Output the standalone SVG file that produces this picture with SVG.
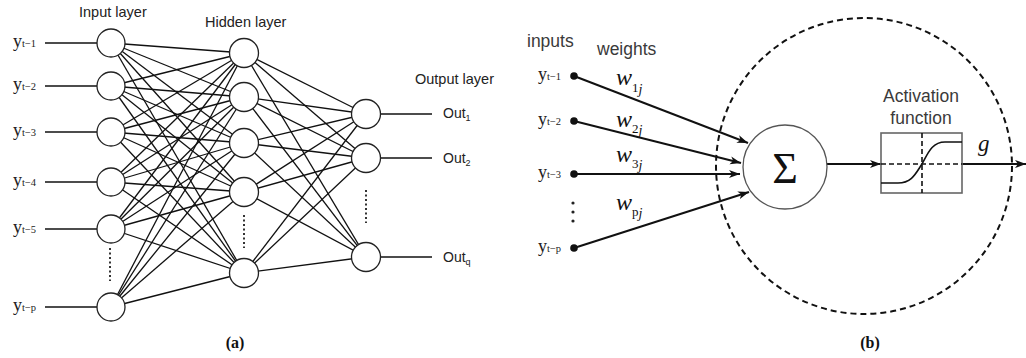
<svg xmlns="http://www.w3.org/2000/svg" width="1026" height="358" viewBox="0 0 1026 358">
<style>
.c{stroke:#111;stroke-width:1.3;fill:none}
.n{fill:#fff;stroke:#222;stroke-width:1.3}
.dot{stroke:#333;stroke-width:2;stroke-dasharray:2 2.5}
.lay{font-family:"Liberation Sans",Arial,sans-serif;font-size:14.5px;fill:#222}
.yl{font-family:"Liberation Serif","Times New Roman",serif;font-size:18px;fill:#222}
.ys{font-size:10.5px}
.out{font-family:"Liberation Sans",Arial,sans-serif;font-size:14px;fill:#222}
.os{font-size:9px}
.cap{font-family:"Liberation Serif","Times New Roman",serif;font-size:16px;font-weight:bold;fill:#111;text-anchor:middle}
.lb{font-family:"Liberation Sans",Arial,sans-serif;font-size:17.5px;fill:#3a3a3a}
.w{font-family:"Liberation Serif","Times New Roman",serif;font-style:italic;font-size:24px;fill:#111}
.ws{font-size:13px;font-style:normal}
.wj{font-size:14px;font-style:italic}
.ar{stroke:#111;stroke-width:2;fill:none}
</style>
<defs>
<marker id="ah" markerUnits="userSpaceOnUse" markerWidth="12" markerHeight="9" refX="11" refY="4.5" orient="auto">
<path d="M0,0.5 L11,4.5 L0,8.5 L3,4.5 Z" fill="#111"/>
</marker>
</defs>

<!-- Panel (a) -->
<g id="a-labels">
<text class="lay" x="79" y="17">Input layer</text>
<text class="lay" x="205" y="27">Hidden layer</text>
<text class="lay" x="415" y="84">Output layer</text>
</g>

<g id="connectors-a">
<line class="c" x1="45" y1="43" x2="97" y2="43"/>
<line class="c" x1="45" y1="86" x2="97" y2="86"/>
<line class="c" x1="45" y1="132" x2="97" y2="132"/>
<line class="c" x1="45" y1="182" x2="97" y2="182"/>
<line class="c" x1="45" y1="229" x2="97" y2="229"/>
<line class="c" x1="45" y1="307" x2="97" y2="307"/>

<line class="c" x1="111" y1="43" x2="244" y2="53"/><line class="c" x1="111" y1="43" x2="244" y2="97"/><line class="c" x1="111" y1="43" x2="244" y2="143"/><line class="c" x1="111" y1="43" x2="244" y2="192"/><line class="c" x1="111" y1="43" x2="244" y2="273"/>
<line class="c" x1="111" y1="86" x2="244" y2="53"/><line class="c" x1="111" y1="86" x2="244" y2="97"/><line class="c" x1="111" y1="86" x2="244" y2="143"/><line class="c" x1="111" y1="86" x2="244" y2="192"/><line class="c" x1="111" y1="86" x2="244" y2="273"/>
<line class="c" x1="111" y1="132" x2="244" y2="53"/><line class="c" x1="111" y1="132" x2="244" y2="97"/><line class="c" x1="111" y1="132" x2="244" y2="143"/><line class="c" x1="111" y1="132" x2="244" y2="192"/><line class="c" x1="111" y1="132" x2="244" y2="273"/>
<line class="c" x1="111" y1="182" x2="244" y2="53"/><line class="c" x1="111" y1="182" x2="244" y2="97"/><line class="c" x1="111" y1="182" x2="244" y2="143"/><line class="c" x1="111" y1="182" x2="244" y2="192"/><line class="c" x1="111" y1="182" x2="244" y2="273"/>
<line class="c" x1="111" y1="229" x2="244" y2="53"/><line class="c" x1="111" y1="229" x2="244" y2="97"/><line class="c" x1="111" y1="229" x2="244" y2="143"/><line class="c" x1="111" y1="229" x2="244" y2="192"/><line class="c" x1="111" y1="229" x2="244" y2="273"/>
<line class="c" x1="111" y1="307" x2="244" y2="53"/><line class="c" x1="111" y1="307" x2="244" y2="97"/><line class="c" x1="111" y1="307" x2="244" y2="143"/><line class="c" x1="111" y1="307" x2="244" y2="192"/><line class="c" x1="111" y1="307" x2="244" y2="273"/>

<line class="c" x1="244" y1="53" x2="366" y2="114"/><line class="c" x1="244" y1="53" x2="366" y2="158"/><line class="c" x1="244" y1="53" x2="366" y2="257"/>
<line class="c" x1="244" y1="97" x2="366" y2="114"/><line class="c" x1="244" y1="97" x2="366" y2="158"/><line class="c" x1="244" y1="97" x2="366" y2="257"/>
<line class="c" x1="244" y1="143" x2="366" y2="114"/><line class="c" x1="244" y1="143" x2="366" y2="158"/><line class="c" x1="244" y1="143" x2="366" y2="257"/>
<line class="c" x1="244" y1="192" x2="366" y2="114"/><line class="c" x1="244" y1="192" x2="366" y2="158"/><line class="c" x1="244" y1="192" x2="366" y2="257"/>
<line class="c" x1="244" y1="273" x2="366" y2="114"/><line class="c" x1="244" y1="273" x2="366" y2="158"/><line class="c" x1="244" y1="273" x2="366" y2="257"/>

<line class="c" x1="380" y1="114" x2="432" y2="114"/>
<line class="c" x1="380" y1="158" x2="432" y2="158"/>
<line class="c" x1="380" y1="257" x2="432" y2="257"/>

<line class="dot" x1="110" y1="248" x2="110" y2="281"/>
<line class="dot" x1="244" y1="215" x2="244" y2="248"/>
<line class="dot" x1="366" y1="190" x2="366" y2="223"/>
</g>

<g id="input-nodes">
<circle class="n" cx="111" cy="43" r="14"/>
<circle class="n" cx="111" cy="86" r="14"/>
<circle class="n" cx="111" cy="132" r="14"/>
<circle class="n" cx="111" cy="182" r="14"/>
<circle class="n" cx="111" cy="229" r="14"/>
<circle class="n" cx="111" cy="307" r="14"/>
</g>
<g id="hidden-nodes">
<circle class="n" cx="244" cy="53" r="14.5"/>
<circle class="n" cx="244" cy="97" r="14.5"/>
<circle class="n" cx="244" cy="143" r="14.5"/>
<circle class="n" cx="244" cy="192" r="14.5"/>
<circle class="n" cx="244" cy="273" r="14.5"/>
</g>
<g id="output-nodes">
<circle class="n" cx="366" cy="114" r="14.5"/>
<circle class="n" cx="366" cy="158" r="14.5"/>
<circle class="n" cx="366" cy="257" r="14.5"/>
</g>

<g id="input-labels-a">
<text class="yl" x="13" y="47">y<tspan class="ys">t−1</tspan></text>
<text class="yl" x="13" y="90">y<tspan class="ys">t−2</tspan></text>
<text class="yl" x="13" y="136">y<tspan class="ys">t−3</tspan></text>
<text class="yl" x="13" y="186">y<tspan class="ys">t−4</tspan></text>
<text class="yl" x="13" y="233">y<tspan class="ys">t−5</tspan></text>
<text class="yl" x="13" y="311">y<tspan class="ys">t−p</tspan></text>
</g>
<g id="output-labels">
<text class="out" x="443" y="118">Out<tspan class="os" dy="3">1</tspan></text>
<text class="out" x="443" y="163">Out<tspan class="os" dy="3">2</tspan></text>
<text class="out" x="443" y="262">Out<tspan class="os" dy="3">q</tspan></text>
</g>
<text class="cap" x="235" y="348">(a)</text>

<!-- Panel (b) -->
<g id="neuron-boundary">
<circle cx="864" cy="166" r="148" fill="none" stroke="#111" stroke-width="2" stroke-dasharray="6 4"/>
</g>

<g id="b-labels">
<text class="lb" x="527" y="47">inputs</text>
<text class="lb" x="597" y="55">weights</text>
</g>

<g id="input-points">
<circle cx="574" cy="76" r="3.8" fill="#111"/>
<circle cx="574" cy="121" r="3.8" fill="#111"/>
<circle cx="574" cy="174" r="3.8" fill="#111"/>
<circle cx="574" cy="248" r="3.8" fill="#111"/>
<circle cx="573" cy="203" r="1.6" fill="#222"/>
<circle cx="573" cy="212" r="1.6" fill="#222"/>
<circle cx="573" cy="221" r="1.6" fill="#222"/>
</g>
<g id="input-labels-b">
<text class="yl" x="538" y="80">y<tspan class="ys">t−1</tspan></text>
<text class="yl" x="538" y="125">y<tspan class="ys">t−2</tspan></text>
<text class="yl" x="538" y="178">y<tspan class="ys">t−3</tspan></text>
<text class="yl" x="538" y="252">y<tspan class="ys">t−p</tspan></text>
</g>

<g id="connectors-b">
<line class="ar" x1="574" y1="76" x2="748" y2="143" marker-end="url(#ah)"/>
<line class="ar" x1="574" y1="121" x2="741" y2="163" marker-end="url(#ah)"/>
<line class="ar" x1="574" y1="174" x2="740" y2="174" marker-end="url(#ah)"/>
<line class="ar" x1="574" y1="248" x2="749" y2="192" marker-end="url(#ah)"/>
<line class="ar" x1="827" y1="164" x2="881" y2="164" stroke-width="1.5" marker-end="url(#ah)"/>
<line class="ar" x1="962" y1="164" x2="1026" y2="164" stroke-width="1.5" marker-end="url(#ah)"/>
</g>

<g id="weight-labels">
<text class="w" x="616" y="85">w<tspan class="ws" dy="7">1</tspan><tspan class="wj" dy="2">j</tspan></text>
<text class="w" x="616" y="127">w<tspan class="ws" dy="6">2</tspan><tspan class="wj" dy="2">j</tspan></text>
<text class="w" x="616" y="162">w<tspan class="ws" dy="6">3</tspan><tspan class="wj" dy="2">j</tspan></text>
<text class="w" x="616" y="210">w<tspan class="ws" dy="6" font-size="10">p</tspan><tspan class="wj" dy="2">j</tspan></text>
</g>

<g id="sum-node">
<circle cx="785" cy="167" r="42" fill="#fff" stroke="#555" stroke-width="1.3"/>
<text x="785" y="183" font-family="'Liberation Serif','Times New Roman',serif" font-size="44" text-anchor="middle" fill="#111">Σ</text>
</g>

<g id="activation">
<text class="lb" x="921" y="102" text-anchor="middle">Activation</text>
<text class="lb" x="921" y="124" text-anchor="middle">function</text>
<rect x="881" y="133" width="81" height="60" fill="none" stroke="#666" stroke-width="1.6"/>
<line x1="922" y1="133" x2="922" y2="193" stroke="#111" stroke-width="1.6" stroke-dasharray="5 3"/>
<line x1="881" y1="164" x2="962" y2="164" stroke="#111" stroke-width="1.6" stroke-dasharray="5 3"/>
<path d="M881,183 L898,183 C912,183 916,173 922,164 C928,153 932,142 945,142 L962,142" fill="none" stroke="#111" stroke-width="1.6"/>
<text x="978" y="151" font-family="'Liberation Serif','Times New Roman',serif" font-style="italic" font-size="23" fill="#111">g</text>
</g>
<text class="cap" x="870" y="348">(b)</text>
</svg>
